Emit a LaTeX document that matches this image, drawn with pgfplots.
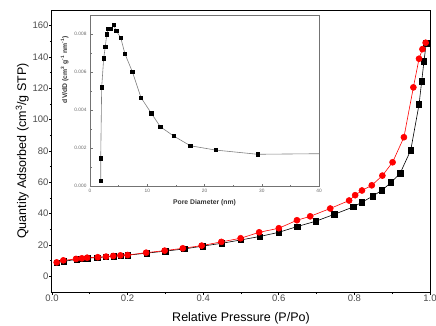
\documentclass[border=0pt]{standalone}
\usepackage{fontspec}
\setmainfont{Liberation Sans}
\usepackage{pgfplots}
\pgfplotsset{compat=1.18}
\definecolor{ored}{RGB}{255,0,0}
\begin{document}
\begin{tikzpicture}
\begin{axis}[name=main, scale only axis, width=378pt, height=282pt,
  at={(0,0)}, anchor=south west,
  xmin=0, xmax=1, ymin=-10, ymax=170,
  xtick={0,0.2,0.4,0.6,0.8,1.0}, minor x tick num=1,
  ytick={0,20,40,60,80,100,120,140,160}, minor y tick num=1,
  tick pos=left, tick align=outside,
  major tick length=3pt, minor tick length=2pt,
  every tick/.style={black, line width=0.8pt},
  axis line style={line width=1pt},
  /pgf/number format/assume math mode=true,
  xticklabel style={/pgf/number format/fixed,/pgf/number format/fixed zerofill,/pgf/number format/precision=1, yshift=4pt},
  yticklabel style={xshift=3pt},
  tick label style={font=\fontsize{9.5}{10}\selectfont, text=black!70},
  label style={font=\fontsize{12.5}{14}\selectfont},
  xlabel={Relative Pressure (P/Po)},
  ylabel={Quantity Adsorbed (cm\textsuperscript{3}/g STP)},
  xlabel style={yshift=-4pt},
  ylabel style={yshift=-3pt},
]
\addplot[black, line width=0.6pt, mark=square*, mark size=2.7pt, mark options={solid, fill=black}] coordinates {
(0.012,8.6) (0.031,9.6) (0.065,10.8) (0.080,11.2) (0.095,11.6) (0.120,12.0)
(0.143,12.4) (0.163,12.8) (0.182,13.2) (0.200,13.5) (0.250,14.8) (0.300,16.1)
(0.350,17.5) (0.399,19.3) (0.449,21.1) (0.499,23.2) (0.549,25.4) (0.600,28.1)
(0.649,31.8) (0.698,35.2) (0.747,39.6) (0.797,44.3) (0.820,47.3) (0.848,51.1)
(0.873,55.0) (0.897,59.9) (0.921,65.8) (0.949,80.5) (0.971,109.7) (0.978,124.4)
(0.984,137.2) (0.990,148.7)
};
\addplot[ored, line width=0.6pt, mark=*, mark size=3pt, mark options={solid, fill=ored, draw=ored}] coordinates {
(0.0124,8.9) (0.030,10.2) (0.0635,11.1) (0.079,11.5) (0.093,11.9) (0.121,12.2)
(0.143,12.6) (0.162,13.0) (0.181,13.4) (0.200,13.6) (0.249,15.1) (0.298,16.4)
(0.346,17.9) (0.396,19.6) (0.448,22.0) (0.499,24.3) (0.548,28.1) (0.600,30.7)
(0.648,35.8) (0.683,38.3) (0.736,43.3) (0.786,48.4) (0.802,51.8) (0.820,54.8)
(0.846,58.1) (0.874,64.3) (0.901,72.8) (0.931,88.8) (0.956,120.6) (0.971,138.9)
(0.980,145.0) (0.9885,149.1)
};
\end{axis}
\begin{axis}[at={(38pt,106pt)}, anchor=south west, scale only axis,
  width=229pt, height=171pt,
  xmin=0, xmax=40, ymin=0, ymax=0.009,
  xtick={0,10,20,30,40}, minor x tick num=1,
  ytick={0,0.002,0.004,0.006,0.008}, minor y tick num=1,
  tick pos=left, tick align=inside,
  major tick length=2.5pt, minor tick length=1.5pt,
  axis line style={black!55, line width=0.8pt},
  every tick/.style={black!55, line width=0.5pt},
  axis background/.style={fill=white},
  scaled y ticks=false,
  /pgf/number format/assume math mode=true,
  yticklabel style={/pgf/number format/fixed,/pgf/number format/fixed zerofill,/pgf/number format/precision=3},
  tick label style={font=\fontsize{4.8}{5}\selectfont, text=black!60},
  label style={font=\fontsize{6.8}{7}\selectfont\bfseries, text=black!80},
  xlabel={Pore Diameter (nm)},
  ylabel={dV/dD (cm\textsuperscript{3} g\textsuperscript{-1} nm\textsuperscript{-1})},
  ylabel style={at={(axis description cs:-0.111,0.68)}, anchor=center, font=\fontsize{6.8}{7}\selectfont\bfseries},
]
\addplot[black!50, line width=0.6pt, mark=none] coordinates {
(29.29,0.00167) (40,0.00170)
};
\addplot[black!50, line width=0.6pt, mark=square*, mark size=1.6pt, mark options={solid, fill=black, draw=black}] coordinates {
(1.87,0.00028) (1.87,0.00146) (2.04,0.00519) (2.39,0.00672) (2.67,0.00733)
(2.92,0.00798) (3.20,0.00826) (3.67,0.00826) (4.14,0.00847) (4.59,0.00816)
(5.36,0.00781) (6.11,0.00695) (7.39,0.00602) (8.91,0.00465) (10.71,0.00383)
(12.28,0.00312) (14.62,0.00263) (17.52,0.00212) (21.96,0.00189) (29.29,0.00167)
};
\end{axis}
\pgfresetboundingbox
\path[use as bounding box] ([shift={(-52pt,-33pt)}]main.south west) rectangle ([shift={(6pt,10pt)}]main.north east);
\end{tikzpicture}
\end{document}
